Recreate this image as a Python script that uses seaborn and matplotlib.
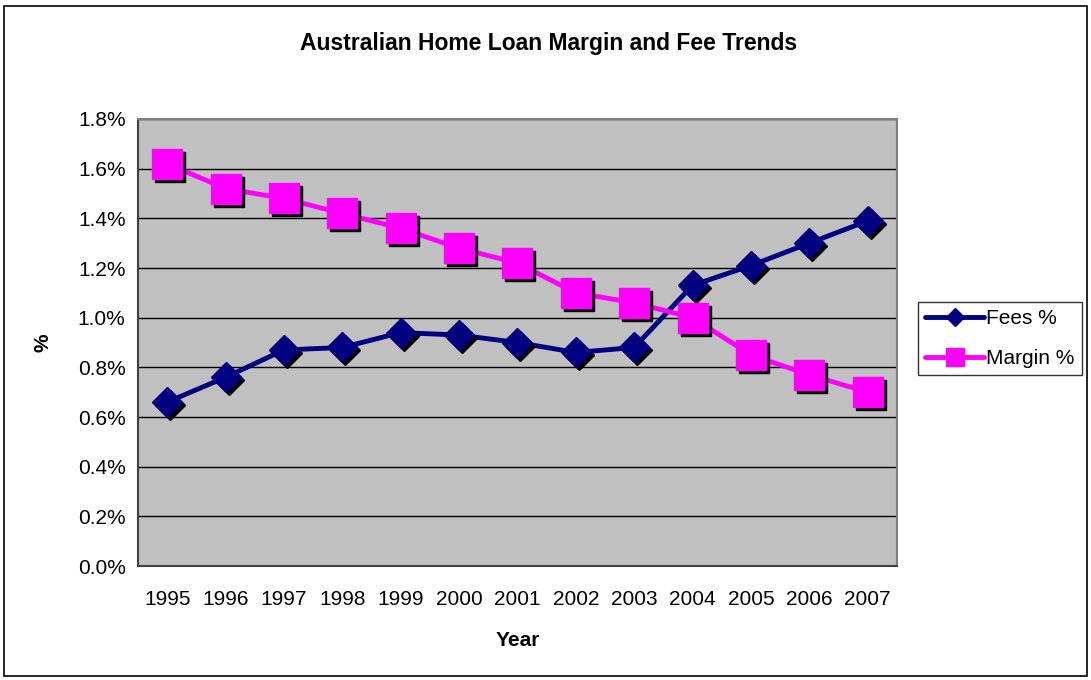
import matplotlib
matplotlib.use("Agg")
import matplotlib.pyplot as plt
import matplotlib.transforms as mtransforms
from matplotlib.patches import Rectangle
from matplotlib.ticker import FuncFormatter, FixedLocator
import seaborn as sns
import pandas as pd

years = ["1995", "1996", "1997", "1998", "1999", "2000", "2001",
         "2002", "2003", "2004", "2005", "2006", "2007"]
fees = [0.66, 0.76, 0.87, 0.88, 0.94, 0.93, 0.90, 0.86, 0.88, 1.13, 1.21, 1.30, 1.39]
margin = [1.62, 1.52, 1.48, 1.42, 1.36, 1.28, 1.22, 1.10, 1.06, 1.00, 0.85, 0.77, 0.70]

df = pd.DataFrame({"pos": range(len(years)), "Fees %": fees, "Margin %": margin})

sns.set_style("white")
plt.rcParams["font.family"] = ["Liberation Sans", "DejaVu Sans"]
plt.rcParams["text.color"] = "black"
plt.rcParams["xtick.color"] = "black"
plt.rcParams["ytick.color"] = "black"
plt.rcParams["axes.labelcolor"] = "black"

fig = plt.figure(figsize=(10.91, 6.8), dpi=100)
ax = fig.add_axes([0.1265, 0.1676, 0.6955, 0.6574])
ax.set_facecolor("#C0C0C0")

# outer chart border
fig.patches.append(Rectangle((0.004, 0.006), 0.992, 0.985, transform=fig.transFigure,
                             fill=False, edgecolor="black", linewidth=1.2))

styles = {"Fees %": ("#000080", "D", 15), "Margin %": ("#FF00FF", "s", 21)}
shadow = ax.transData + mtransforms.ScaledTranslation(3 / 100, -3 / 100, fig.dpi_scale_trans)

handles = []
for name, (col, mk, ms) in styles.items():
    sns.lineplot(data=df, x="pos", y=name, ax=ax, color=col, linewidth=3.5, zorder=3)
    ax.plot(df["pos"], df[name], linestyle="none", marker=mk, markersize=ms,
            color="black", transform=shadow, zorder=4)
    ax.plot(df["pos"], df[name], linestyle="none", marker=mk, markersize=ms,
            color=col, zorder=5)
    h, = ax.plot([], [], color=col, linewidth=3.5, marker=mk, markersize=ms * 0.6)
    handles.append(h)

ax.set_xlim(-0.5, len(years) - 0.5)
ax.set_ylim(0, 1.8)
ax.set_yticks([i * 0.2 for i in range(10)])
ax.yaxis.set_major_formatter(FuncFormatter(lambda v, p: f"{v:.1f}%"))
ax.set_xticks(range(len(years)))
ax.set_xticklabels(years)
ax.xaxis.set_minor_locator(FixedLocator([i - 0.5 for i in range(len(years) + 1)]))
ax.tick_params(axis="x", which="major", length=0, labelsize=15, pad=17)
ax.tick_params(axis="x", which="minor", length=6, width=1, direction="out", color="black")
ax.tick_params(axis="y", length=6, width=1, direction="out", color="black", labelsize=15, pad=3)
ax.yaxis.grid(True, color="black", linewidth=1)
ax.set_axisbelow(True)

for s in ["top", "right"]:
    ax.spines[s].set_color("#808080")
    ax.spines[s].set_linewidth(1.5)
for s in ["left", "bottom"]:
    ax.spines[s].set_color("#404040")
    ax.spines[s].set_linewidth(1.5)

ax.set_xlabel("Year", fontsize=15, fontweight="bold", labelpad=16)
ax.set_ylabel("%", fontsize=15, fontweight="bold", labelpad=18)
fig.text(0.503, 0.936, "Australian Home Loan Margin and Fee Trends",
         ha="center", va="center", fontsize=16.5, fontweight="bold")

leg = fig.legend(handles, ["Fees %", "Margin %"], loc="center left",
                 bbox_to_anchor=(0.832, 0.502), fontsize=15, frameon=True,
                 fancybox=False, edgecolor="black", handlelength=2.8,
                 handletextpad=0.1, borderpad=0.35, labelspacing=1.0)
leg.get_frame().set_linewidth(1)

fig.savefig("out.png", dpi=100)
